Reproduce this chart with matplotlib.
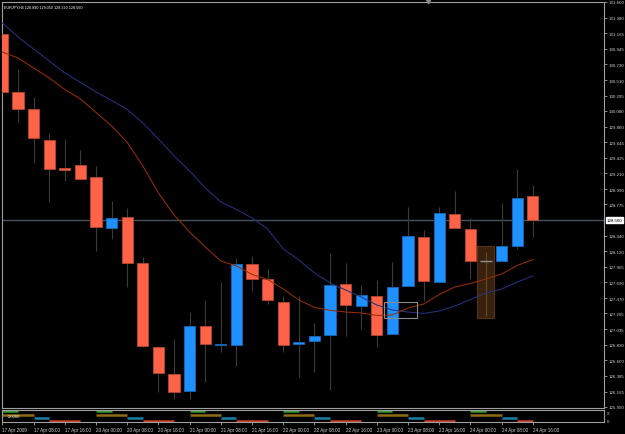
import matplotlib
matplotlib.use('Agg')
import matplotlib.pyplot as plt
from matplotlib.patches import Rectangle
from matplotlib.lines import Line2D

# ---- data (EURJPY H4, 17-24 Apr 2009) ----
opens = [131.154, 130.349, 130.107, 129.679, 129.280, 129.330, 129.155, 128.443, 128.597, 127.955,
         126.783, 126.411, 126.178, 127.076, 126.815, 126.815, 127.941, 127.736, 127.419, 126.825,
         126.871, 126.955, 127.666, 127.355, 127.503, 126.962, 127.634, 128.326, 127.698, 128.638,
         128.433, 127.983, 127.991, 128.192, 128.890]
highs = [131.180, 130.665, 130.271, 129.768, 129.689, 129.535, 129.316, 128.828, 128.722, 128.039,
         126.805, 126.899, 127.280, 127.443, 127.690, 128.025, 128.061, 127.875, 127.503, 127.503,
         127.122, 128.098, 127.959, 127.652, 127.726, 127.969, 128.736, 128.419, 128.736, 128.968,
         128.583, 128.108, 128.796, 129.270, 129.050]
lows = [130.330, 129.926, 129.354, 128.806, 129.107, 129.131, 128.131, 128.294, 127.628, 126.783,
        126.155, 126.062, 126.062, 126.295, 126.722, 126.518, 127.573, 127.387, 126.722, 126.365,
        126.443, 126.192, 126.937, 127.038, 126.783, 126.962, 127.634, 127.433, 127.680, 128.443,
        127.736, 127.224, 127.991, 128.154, 128.320]
closes = [130.349, 130.107, 129.699, 129.270, 129.252, 129.131, 128.457, 128.583, 127.955, 126.805,
          126.425, 126.155, 127.076, 126.825, 126.830, 127.945, 127.736, 127.443, 126.815, 126.861,
          126.937, 127.652, 127.373, 127.513, 126.955, 127.631, 128.332, 127.704, 128.652, 128.443,
          127.991, 127.983, 128.196, 128.862, 128.560]

ma_slow = [131.307, 131.112, 130.944, 130.777, 130.610, 130.480, 130.345, 130.226, 130.100, 129.912,
           129.689, 129.452, 129.242, 129.005, 128.810, 128.705, 128.587, 128.433, 128.154, 128.001,
           127.820, 127.680, 127.582, 127.485, 127.373, 127.303, 127.275, 127.255, 127.289, 127.359,
           127.450, 127.541, 127.596, 127.694, 127.778]
ma_fast = [130.902, 130.819, 130.679, 130.540, 130.379, 130.247, 130.059, 129.870, 129.640, 129.312,
           128.936, 128.629, 128.391, 128.182, 127.987, 127.917, 127.799, 127.729, 127.596, 127.443,
           127.338, 127.299, 127.275, 127.262, 127.227, 127.234, 127.331, 127.387, 127.520, 127.624,
           127.673, 127.736, 127.806, 127.924, 128.008]

price_ticks = [131.600, 131.380, 131.165, 130.945, 130.730, 130.510, 130.295, 130.080, 129.860,
               129.645, 129.425, 129.210, 128.990, 128.775, 128.340, 128.120, 127.905, 127.690,
               127.470, 127.255, 127.035, 126.820, 126.600, 126.385, 126.165, 125.950]
last_price = 128.560

time_labels = ['17 Apr 2009', '17 Apr 08:00', '17 Apr 16:00', '20 Apr 00:00', '20 Apr 08:00',
               '20 Apr 16:00', '21 Apr 00:00', '21 Apr 08:00', '21 Apr 16:00', '22 Apr 00:00',
               '22 Apr 08:00', '22 Apr 16:00', '23 Apr 00:00', '23 Apr 08:00', '23 Apr 16:00',
               '24 Apr 00:00', '24 Apr 08:00', '24 Apr 16:00']

# session indicator: day start bars and (start, end, level, colour) offsets
day_starts = [0, 6, 12, 18, 24, 30]
sessions = [(0, 1, 8.0, '#2f9a2f'), (0, 2, 5.5, '#8f6a14'),
            (2, 3, 2.8, '#1b7fa6'), (3, 5, 1.0, '#c8402c')]

# chart objects (bar index / price)
brown_box = (30.44, 31.51, 127.198, 128.200)
gray_box = (24.46, 26.57, 127.189, 127.411)

BULL = '#1e90ff'
BEAR = '#ff6347'
GRID = '#a0a0a0'
TXT = '#d0d0d0'
plt.rcParams['font.family'] = ['Liberation Sans', 'DejaVu Sans']

fig = plt.figure(figsize=(6.25, 4.35), dpi=100, facecolor='black')
ax = fig.add_axes([2 / 625, 1 - 409 / 435, 602 / 625, 406 / 435])
ax2 = fig.add_axes([2 / 625, 1 - 423 / 435, 602 / 625, 12 / 435], sharex=ax)

for a in (ax, ax2):
    a.set_facecolor('black')
    for s in a.spines.values():
        s.set_color(GRID)
        s.set_linewidth(0.8)

n = len(opens)
xs = list(range(n))

# chart objects in background
bx0, bx1, by0, by1 = brown_box
ax.add_patch(Rectangle((bx0, by0), bx1 - bx0, by1 - by0, facecolor='#3a210c',
                       edgecolor='#553212', lw=0.8, zorder=1))
gx0, gx1, gy0, gy1 = gray_box
ax.add_patch(Rectangle((gx0, gy0), gx1 - gx0, gy1 - gy0, facecolor='none',
                       edgecolor='#8a8a8a', lw=0.8, zorder=6))

# current price line
ax.axhline(last_price, color='#45525c', lw=1.0, zorder=1.5)

# candles
body_w = 0.72
for i in xs:
    o, h, l, c = opens[i], highs[i], lows[i], closes[i]
    if c > o:
        fc, ec = BULL, '#1766b8'
    elif c < o:
        fc, ec = BEAR, '#b8452f'
    else:
        fc, ec = '#909090', '#909090'
    wick_col = '#5a4a3a' if c == o else '#3a3a3a'
    ax.vlines(i, l, h, color=wick_col, lw=0.8, zorder=2)
    bottom = min(o, c)
    height = max(abs(c - o), 0.018)
    if c == o:
        ax.hlines(o, i - body_w / 2, i + body_w / 2, color=fc, lw=1.0, zorder=3)
    else:
        ax.bar(i, height, width=body_w, bottom=bottom, color=fc, edgecolor=ec,
               linewidth=0.6, zorder=3)

# moving averages
ax.plot(xs, ma_slow, color='#24327e', lw=0.75, zorder=4)
ax.plot(xs, ma_fast, color='#962e06', lw=0.75, zorder=4)

ax.set_xlim(-0.03, 38.56)
ax.set_ylim(125.936, 131.6)

ax.tick_params(axis='x', bottom=False, labelbottom=False)
ax.yaxis.tick_right()
ax.set_yticks(price_ticks)
ax.set_yticklabels(['%.3f' % v for v in price_ticks])
ax.tick_params(axis='y', length=2, width=0.6, color=GRID, labelcolor=TXT,
               labelsize=3.2, pad=1)

ax.text(0.003, 0.993, 'EURJPY,H4 128.890 129.050 128.320 128.560', transform=ax.transAxes,
        color='white', fontsize=2.7, va='top', ha='left')

ax.annotate('%.3f' % last_price, xy=(1.0, last_price), xycoords=('axes fraction', 'data'),
            xytext=(2.0, 0), textcoords='offset points', ha='left', va='center',
            fontsize=3.2, color='black',
            bbox=dict(boxstyle='square,pad=0.15', fc='white', ec='white'), zorder=10,
            annotation_clip=False)

# shift marker at the top
fig.add_artist(Line2D([428 / 625], [1 - 1.5 / 435], marker='v', markersize=3.5,
                      color='#8a8a8a', transform=fig.transFigure))

# session indicator window
for d in day_starts:
    for s0, s1, lev, col in sessions:
        x0 = d + s0
        x1 = min(d + s1, n - 1)
        if x1 > x0:
            ax2.hlines(lev, x0, x1, color=col, lw=1.8)
ax2.set_ylim(0, 9)
ax2.set_yticks([])
ax2.text(0.01, 0.5, '2.0000', transform=ax2.transAxes, color='white', fontsize=3.0,
         va='center', ha='left')
ax2.text(1.004, 0.75, '9', transform=ax2.transAxes, color=TXT, fontsize=3.2,
         va='center', ha='left')
ax2.text(1.004, 0.08, '0', transform=ax2.transAxes, color=TXT, fontsize=3.2,
         va='center', ha='left')

ax2.set_xticks(list(range(0, 35, 2)))
ax2.set_xticklabels(time_labels)
ax2.tick_params(axis='x', length=2.5, width=0.6, color=GRID, labelcolor=TXT,
                labelsize=3.3, pad=1)
for lbl in ax2.get_xticklabels():
    lbl.set_ha('left')

fig.savefig('out.png', dpi=100, facecolor='black')
